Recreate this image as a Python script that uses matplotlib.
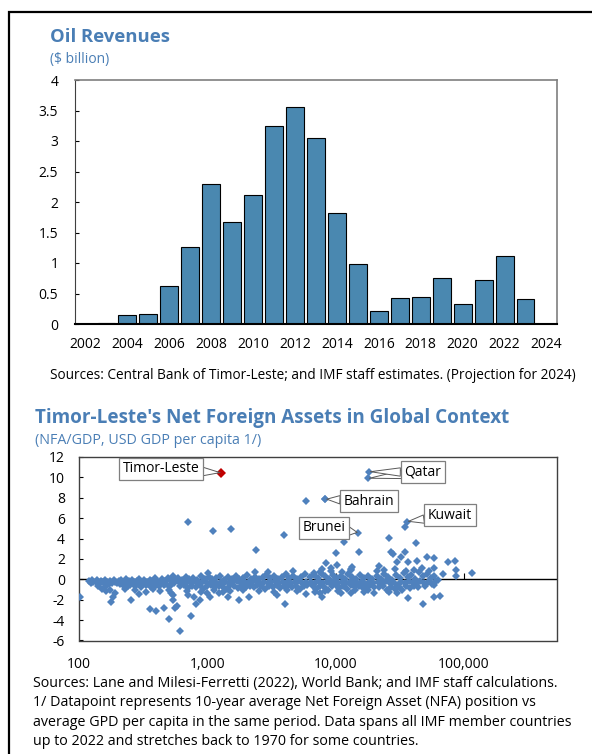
import numpy as np
import matplotlib
matplotlib.use("Agg")
import matplotlib.pyplot as plt
from matplotlib.patches import Rectangle

plt.rcParams['font.family'] = ['Open Sans', 'DejaVu Sans']
plt.rcParams['axes.unicode_minus'] = False

# ---------------- data: oil revenues ----------------
years = [str(y) for y in range(2002, 2025)]
oil_revenue = [0.005, 0.02, 0.147, 0.169, 0.615, 1.257, 2.29, 1.665, 2.12, 3.24, 3.565,
               3.05, 1.82, 0.98, 0.22, 0.425, 0.45, 0.76, 0.33, 0.72, 1.11, 0.41, 0.0]
oil_yticks = [0, 0.5, 1, 1.5, 2, 2.5, 3, 3.5, 4]

# ---------------- data: NFA scatter ----------------
# log10 of GDP per capita (USD) and NFA/GDP
band_lx = [
    2.08, 2.09, 2.10, 2.11, 2.13, 2.14, 2.16, 2.17, 2.19, 2.20, 2.22, 2.23, 2.24, 2.26, 2.27, 2.28, 2.30,
    2.15, 2.18, 2.21, 2.24, 2.20,
    2.31, 2.33, 2.35, 2.37, 2.39, 2.41, 2.43, 2.45, 2.47, 2.49, 2.51, 2.53, 2.55, 2.57, 2.59, 2.61, 2.63,
    2.65, 2.67, 2.69, 2.71, 2.73, 2.75,
    2.32, 2.34, 2.36, 2.38, 2.40, 2.42, 2.44, 2.46, 2.48, 2.50, 2.52, 2.54, 2.56, 2.58, 2.60, 2.62, 2.64,
    2.66, 2.68, 2.70, 2.72, 2.74,
    2.36, 2.44, 2.52, 2.58, 2.63, 2.70, 2.72, 2.47,
    2.77, 2.80, 2.83, 2.86, 2.89, 2.92, 2.95, 2.98, 3.01, 3.04, 3.07, 3.10, 3.13, 3.16, 3.19, 3.22, 3.25,
    3.28, 3.31, 3.34, 3.37, 3.40, 3.43, 3.46, 3.49, 3.52, 3.55, 3.58, 3.61, 3.64, 3.67, 3.70, 3.73, 3.76,
    2.78, 2.81, 2.84, 2.87, 2.90, 2.93, 2.96, 2.99, 3.02, 3.05, 3.08, 3.11, 3.14, 3.17, 3.20, 3.23, 3.26,
    3.29, 3.32, 3.35, 3.38, 3.41, 3.44, 3.47, 3.50, 3.53, 3.56, 3.59, 3.62, 3.65, 3.68, 3.71, 3.74, 3.77,
    2.79, 2.82, 2.85, 2.88, 2.91, 2.94, 2.97, 3.00, 3.03, 3.06, 3.09, 3.12, 3.15, 3.18, 3.21, 3.24, 3.27,
    3.30, 3.33, 3.36, 3.39, 3.42, 3.45, 3.48, 3.51, 3.54, 3.57, 3.60, 3.63, 3.66, 3.69, 3.72, 3.75, 3.78,
    2.84, 2.95, 3.05, 3.18, 3.28, 3.40, 3.52, 3.62, 3.70, 3.00, 3.12,
    3.80, 3.83, 3.86, 3.89, 3.92, 3.95, 3.98, 4.01, 4.04, 4.07, 4.10, 4.13, 4.16, 4.19, 4.22, 4.25, 4.28,
    3.81, 3.84, 3.87, 3.90, 3.93, 3.96, 3.99, 4.02, 4.05, 4.08, 4.11, 4.14, 4.17, 4.20, 4.23, 4.26, 4.29,
    3.82, 3.85, 3.88, 3.91, 3.94, 3.97, 4.00, 4.03, 4.06, 4.09, 4.12, 4.15, 4.18, 4.21, 4.24, 4.27, 4.30,
    3.84, 3.92, 4.02, 4.15, 4.25, 3.88, 3.96, 4.05, 4.12,
    4.32, 4.35, 4.38, 4.41, 4.44, 4.47, 4.50, 4.53, 4.56, 4.59, 4.62, 4.65, 4.68, 4.71, 4.74, 4.77, 4.80,
    4.33, 4.36, 4.39, 4.42, 4.45, 4.48, 4.51, 4.54, 4.57, 4.60, 4.63, 4.66, 4.69, 4.72, 4.75, 4.78,
    4.34, 4.37, 4.40, 4.43, 4.46, 4.49, 4.52, 4.55, 4.58, 4.61, 4.64, 4.70,
    4.38, 4.46, 4.55, 4.61, 4.67, 4.73,
]
band_nfa = [
    -0.15, -0.35, -0.05, -0.25, -0.3, -0.1, -0.4, -0.2, -0.3, -0.1, -0.25, -0.45, -0.15, -0.35, -0.05, -0.25, -0.4,
    -0.7, -0.9, -1.1, -1.0, -0.8,
    -0.2, -0.1, -0.3, 0.0, -0.2, -0.1, -0.3, -0.15, 0.05, -0.25, -0.1, -0.3, -0.05, -0.2, 0.1, -0.15, -0.3,
    0.0, -0.2, 0.15, -0.1, 0.3, -0.2,
    -0.5, -0.6, -0.45, -0.7, -0.55, -0.4, -0.65, -0.5, -0.8, -0.45, -0.6, -0.5, -0.75, -0.4, -0.55, -0.65, -0.45,
    -0.6, -0.5, -0.7, -0.55, -0.4,
    -0.9, -1.0, -1.2, -0.95, -1.1, -1.0, -1.35, -1.4,
    0.1, -0.05, 0.25, 0.0, 0.15, -0.05, 0.3, 0.05, 0.2, 0.0, 0.1, 0.35, -0.05, 0.2, 0.05, 0.3, 0.0,
    0.15, 0.4, 0.05, 0.25, 0.0, 0.2, 0.45, 0.1, 0.3, 0.0, 0.2, 0.5, 0.1, 0.3, 0.05, 0.25, 0.55,
    -0.3, -0.4, -0.25, -0.35, -0.2, -0.4, -0.3, -0.25, -0.35, -0.2, -0.45, -0.3, -0.25, -0.4, -0.3, -0.2, -0.35,
    -0.25, -0.4, -0.3, -0.2, -0.35, -0.25, -0.4, -0.3, -0.2, -0.35, -0.3, -0.25, -0.4, -0.3, -0.2, -0.35, -0.3,
    -0.7, -0.6, -0.85, -0.65, -0.75, -0.6, -0.9, -0.7, -0.6, -0.8, -0.65, -0.75, -0.9, -0.6, -0.7, -0.85, -0.6,
    -0.75, -0.65, -0.8, -0.6, -0.7, -0.9, -0.65, -0.75, -0.6, -0.85, -0.7, -0.6, -0.8, -0.65, -0.9, -0.7, -0.6,
    -1.1, -1.2, -1.05, -1.15, -1.0, -1.1, -1.2, -1.0, -1.1, -1.3, -1.25,
    0.2, 0.4, 0.1, 0.55, 0.3, 0.0, 0.45, 0.15, 0.35, 0.05, 0.5, 0.2, 0.0, 0.4, 0.1, 0.3, 0.0,
    -0.25, -0.4, -0.2, -0.35, -0.3, -0.45, -0.2, -0.35, -0.25, -0.4, -0.3, -0.2, -0.35, -0.3, -0.45, -0.25, -0.35,
    -0.7, -0.9, -0.65, -0.8, -1.0, -0.7, -0.6, -0.85, -0.7, -0.95, -0.6, -0.75, -0.65, -0.85, -0.7, -0.6, -0.8,
    -1.2, -1.15, -1.1, -1.05, -1.0, 0.75, 0.8, 0.7, 0.9,
    0.3, 0.0, 0.5, 0.2, -0.1, 0.4, 0.1, 0.6, 0.2, 0.45, 0.0, 0.7, 0.3, 0.5, 0.1, 0.35, -0.1,
    -0.3, -0.5, -0.2, -0.4, -0.3, -0.6, -0.25, -0.4, -0.2, -0.35, -0.5, -0.2, -0.4, -0.3, -0.5, -0.2,
    -0.8, -0.7, -1.0, -0.75, -0.9, -0.8, -1.05, -0.7, -0.85, -0.65, -0.8, -0.7,
    0.9, 1.0, 0.85, 0.95, 1.1, 0.8,
]
outlier_lx = [2.005, 2.853, 3.042, 3.188, 3.377, 3.601, 3.772, 3.92,
              4.066, 4.006, 4.18, 4.009, 3.928, 3.964, 3.896, 4.127, 4.122,
              4.416, 4.429, 4.447, 4.538, 4.507, 4.476, 4.629, 4.567, 4.637, 4.71, 4.77, 4.77,
              4.875, 4.93, 4.935, 4.935, 4.835, 5.06, 4.34, 4.325,
              4.56, 4.68, 4.77, 4.815, 4.77, 3.609,
              2.551, 2.603, 2.665, 2.699, 2.746, 2.762, 2.788, 2.876, 2.252, 2.403, 2.265, 2.281,
              2.915, 2.941, 2.897, 2.735, 2.735, 2.85, 3.021, 3.09, 3.16, 3.247, 3.325,
              3.003, 3.37, 3.474, 3.668, 3.83, 3.546, 3.767, 3.89, 3.88, 4.04, 4.117, 4.22, 4.3, 4.48, 4.416]
outlier_nfa = [-1.7, 5.64, 4.72, 4.95, 2.89, 4.3, 7.64, 7.87,
               3.64, 2.62, 2.69, 1.41, 1.64, 1.08, 1.0, 1.25, 1.0,
               4.03, 2.66, 2.49, 2.66, 2.16, 1.74, 3.6, 1.74, 1.84, 2.16, 2.13, 1.08,
               1.67, 1.77, 0.92, 0.36, 0.56, 0.66, 1.31, 0.85,
               -1.8, -2.46, -1.7, -1.64, -0.56, -2.46,
               -2.92, -3.15, -2.79, -3.87, -2.85, -2.59, -5.11, -3.64, -2.26, -2.03, -1.7, -1.31,
               -2.43, -2.03, -1.7, -2.03, -1.54, -1.54, -1.77, -1.38, -1.7, -2.0, -1.7,
               0.66, 0.75, 0.75, 0.85, 0.66, -1.54, -1.48, -1.7, -1.38, -1.31, -1.31, -1.2, -1.38, -1.38, -1.2]
qatar_lx = [4.26, 4.253]
qatar_nfa = [10.56, 9.9]
bahrain_lx, bahrain_nfa = 3.92, 7.87
brunei_lx, brunei_nfa = 4.178, 4.59
kuwait_lx = [4.557, 4.541]
kuwait_nfa = [5.67, 5.12]
timor_lx, timor_nfa = 3.11, 10.46

nfa_yticks = [-6, -4, -2, 0, 2, 4, 6, 8, 10, 12]
gdp_ticks = [100, 1000, 10000, 100000]
gdp_ticklabels = ['100', '1,000', '10,000', '100,000']

# ---------------- figure ----------------
W, H = 592, 754
fig = plt.figure(figsize=(W / 100, H / 100), dpi=100)

def fx(px):
    return px / W

def fy(py):
    return 1 - py / H

title_c = '#4A7EB5'
bar_c = '#4A88B0'
dot_c = '#4F81BD'

# outer frame
fig.add_artist(Rectangle((fx(9), -0.1), 1.2, fy(12) + 0.1, transform=fig.transFigure,
                         fill=False, ec='black', lw=1.6))

# ---- top chart ----
fig.text(fx(50), fy(37), 'Oil Revenues', fontsize=13.3, fontweight='bold', color=title_c,
         ha='left', va='center')
fig.text(fx(50), fy(60), '($ billion)', fontsize=10, color=title_c, ha='left', va='center')

ax1 = fig.add_axes([fx(75), fy(324), fx(557) - fx(75), fy(80) - fy(324)])
x = np.arange(len(years))
ax1.bar(x, oil_revenue, width=0.85, color=bar_c, edgecolor='black', linewidth=0.8, zorder=3)
ax1.set_xlim(-0.5, len(years) - 0.5)
ax1.set_ylim(0, 4)
ax1.set_yticks(oil_yticks, labels=[f'{v:g}' for v in oil_yticks])
ax1.set_xticks(x[::2], labels=years[::2])
ax1.tick_params(axis='x', length=0, pad=9, labelsize=10)
ax1.tick_params(axis='y', direction='in', length=3, pad=12, labelsize=10)
for s in ['top', 'right']:
    ax1.spines[s].set_color('#7F7F7F')
    ax1.spines[s].set_linewidth(1.2)
ax1.spines['left'].set_color('#404040')
ax1.spines['bottom'].set_color('black')
ax1.spines['bottom'].set_linewidth(1.5)
ax1.spines['bottom'].set_zorder(4)

fig.text(fx(50), fy(376), 'Sources: Central Bank of Timor-Leste; and IMF staff estimates. (Projection for 2024)',
         fontsize=9.8, ha='left', va='center')

# ---- bottom chart ----
fig.text(fx(35), fy(418), "Timor-Leste's Net Foreign Assets in Global Context", fontsize=13.6,
         fontweight='bold', color=title_c, ha='left', va='center')
fig.text(fx(35), fy(441), '(NFA/GDP, USD GDP per capita 1/)', fontsize=10.3, color=title_c,
         ha='left', va='center')

ax2 = fig.add_axes([fx(79), fy(640.5), fx(557) - fx(79), fy(457) - fy(640.5)])
ax2.set_xscale('log')
ax2.set_xlim(100, 10 ** 5.725)
ax2.set_ylim(-6, 12)
ax2.axhline(0, color='black', lw=1.0, zorder=1)
ax2.plot(gdp_ticks[1:], [0] * 3, ls='none', marker=2, ms=4, mew=0.8, color='black', zorder=1)

pts_x = 10 ** np.array(band_lx + outlier_lx + qatar_lx + [bahrain_lx, brunei_lx] + kuwait_lx)
pts_y = np.array(band_nfa + outlier_nfa + qatar_nfa + [bahrain_nfa, brunei_nfa] + kuwait_nfa)
ax2.plot(pts_x, pts_y, ls='none', marker='D', ms=3.9, mew=0, color=dot_c, zorder=3)
ax2.plot([10 ** timor_lx], [timor_nfa], ls='none', marker='D', ms=4.6, mew=0, color='#C00000', zorder=4)

ax2.set_yticks(nfa_yticks, labels=[str(v) for v in nfa_yticks])
ax2.set_xticks(gdp_ticks, labels=gdp_ticklabels)
ax2.xaxis.set_minor_locator(matplotlib.ticker.NullLocator())
ax2.tick_params(axis='x', length=0, pad=12, labelsize=10)
ax2.tick_params(axis='y', direction='in', length=3, pad=10, labelsize=10)
for s in ax2.spines.values():
    s.set_color('#404040')
    s.set_linewidth(1.0)

bbox = dict(boxstyle='square,pad=0.25', fc='white', ec='#7F7F7F', lw=0.9)
wedge = dict(arrowstyle='wedge,tail_width=0.6,shrink_factor=0.5', fc='white', ec='#595959', lw=0.7,
             shrinkA=0, shrinkB=1)

def callout(label, px, py, tx, ty, z=6):
    ax2.annotate(label, xy=(px, py), xycoords='data', xytext=(tx, ty), textcoords='axes fraction',
                 fontsize=10, ha='center', va='center', bbox=bbox, arrowprops=wedge, zorder=z)

callout('Timor-Leste', 10 ** timor_lx, timor_nfa, 0.1715, 0.935)
callout('Qatar', 10 ** qatar_lx[0], qatar_nfa[0], 0.719, 0.917, z=7)
ax2.annotate('', xy=(10 ** qatar_lx[1], qatar_nfa[1]), xycoords='data', xytext=(0.677, 0.905),
             textcoords='axes fraction', arrowprops=wedge, zorder=5)
callout('Bahrain', 10 ** bahrain_lx, bahrain_nfa, 0.607, 0.76)
callout('Kuwait', 10 ** kuwait_lx[0], kuwait_nfa[0], 0.776, 0.682)
callout('Brunei', 10 ** brunei_lx, brunei_nfa, 0.512, 0.614)

notes = [
    'Sources: Lane and Milesi-Ferretti (2022), World Bank; and IMF staff calculations.',
    '1/ Datapoint represents 10-year average Net Foreign Asset (NFA) position vs',
    'average GPD per capita in the same period. Data spans all IMF member countries',
    'up to 2022 and stretches back to 1970 for some countries.',
]
for i, line in enumerate(notes):
    fig.text(fx(33), fy(683 + 19.5 * i), line, fontsize=10.3, ha='left', va='center')

fig.savefig('out.png', dpi=100)
